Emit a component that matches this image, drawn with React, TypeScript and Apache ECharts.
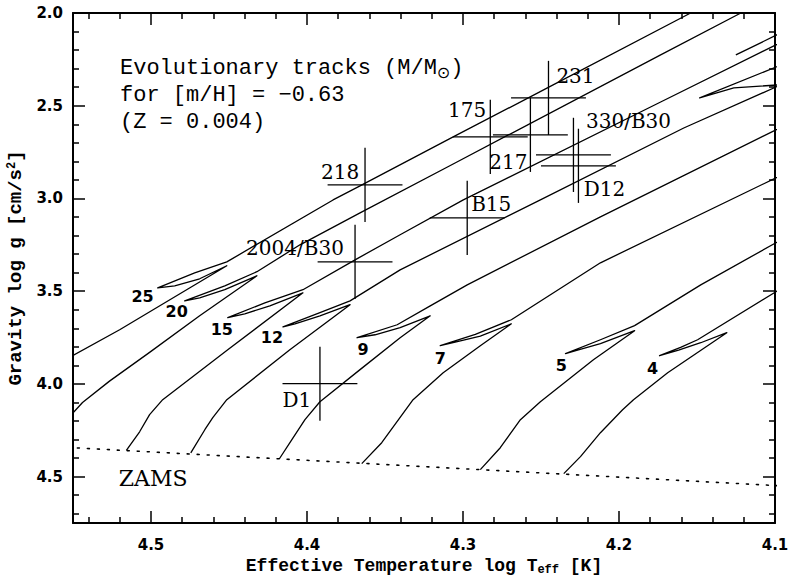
import React, { useEffect, useRef } from "react";
import * as echarts from "echarts";

// Evolutionary tracks: [log Teff, log g]
const track25 = [[4.5619, 3.902], [4.5201, 3.708], [4.4514, 3.363], [4.4688, 3.433], [4.4848, 3.471], [4.4957, 3.482], [4.472, 3.401], [4.4514, 3.342], [4.3833, 3.008], [4.366, 2.932], [4.3063, 2.668], [4.2459, 2.404], [4.1541, 2.0], [4.1412, 1.946]];
const track20 = [[4.5548, 4.2], [4.5439, 4.1], [4.5266, 3.985], [4.5009, 3.83], [4.4688, 3.633], [4.4321, 3.417], [4.4527, 3.492], [4.4688, 3.536], [4.4784, 3.552], [4.4527, 3.471], [4.4321, 3.395], [4.4045, 3.25], [4.366, 3.078], [4.3063, 2.814], [4.1733, 2.226], [4.1219, 2.0], [4.1091, 1.941]];
const track15 = [[4.5158, 4.358], [4.5073, 4.258], [4.5009, 4.166], [4.4925, 4.085], [4.4508, 3.816], [4.4026, 3.509], [4.4238, 3.579], [4.4399, 3.622], [4.4508, 3.643], [4.427, 3.563], [4.4026, 3.492], [4.3692, 3.331], [4.3403, 3.196], [4.2998, 3.008], [4.1733, 2.48], [4.0994, 2.172], [4.0898, 2.135]];
const track12 = [[4.4745, 4.372], [4.4655, 4.247], [4.4604, 4.182], [4.4514, 4.085], [4.411, 3.816], [4.3724, 3.573], [4.3917, 3.633], [4.4077, 3.676], [4.4154, 3.692], [4.3917, 3.616], [4.3724, 3.552], [4.3403, 3.385], [4.2504, 3.008], [4.1585, 2.62], [4.0994, 2.399], [4.0898, 2.361]];
const track9 = [[4.4178, 4.405], [4.4097, 4.301], [4.4013, 4.193], [4.3917, 4.096], [4.366, 3.923], [4.3403, 3.751], [4.321, 3.633], [4.3403, 3.697], [4.3564, 3.735], [4.3679, 3.751], [4.3422, 3.681], [4.321, 3.579], [4.2973, 3.466], [4.2119, 3.099], [4.0994, 2.63], [4.0898, 2.593]];
const track7 = [[4.3649, 4.43], [4.3521, 4.317], [4.332, 4.085], [4.3127, 3.94], [4.2889, 3.794], [4.269, 3.676], [4.2889, 3.742], [4.305, 3.775], [4.3146, 3.794], [4.2921, 3.733], [4.269, 3.654], [4.2119, 3.347], [4.0994, 2.889], [4.0898, 2.851]];
const track5 = [[4.2889, 4.462], [4.2761, 4.344], [4.2632, 4.193], [4.2504, 4.096], [4.2164, 3.87], [4.19, 3.713], [4.2119, 3.783], [4.226, 3.816], [4.2343, 3.837], [4.2119, 3.762], [4.19, 3.686], [4.1476, 3.466], [4.0994, 3.239], [4.0898, 3.196]];
const track4 = [[4.2354, 4.484], [4.2247, 4.392], [4.2119, 4.263], [4.1977, 4.139], [4.1907, 4.085], [4.1688, 3.94], [4.1309, 3.724], [4.1476, 3.778], [4.1618, 3.818], [4.174, 3.848], [4.1605, 3.803], [4.1496, 3.762], [4.0994, 3.503], [4.0898, 3.455]];
const loopSegment = [[4.0898, 2.259], [4.1483, 2.458], [4.1264, 2.404], [4.0898, 2.383]];
const shortSegment = [[4.1251, 2.226], [4.0898, 2.081]];
const zams = [[4.56, 4.3395], [4.09, 4.5525]];

const massLabels = ["25", "20", "15", "12", "9", "7", "5", "4"];
const massLabelTeff = [4.5054, 4.4835, 4.4546, 4.4225, 4.3641, 4.3146, 4.2369, 4.1785];
const massLabelLogg = [3.53, 3.611, 3.708, 3.751, 3.816, 3.864, 3.902, 3.918];

// Stars with error bars
const starNames = ["218", "2004/B30", "175", "231", "217", "330/B30", "D12", "B15", "D1"];
const starTeff = [4.3628, 4.3692, 4.2825, 4.2452, 4.2568, 4.2292, 4.226, 4.2973, 4.3917];
const starLogg = [2.927, 3.342, 2.668, 2.458, 2.657, 2.765, 2.824, 3.105, 3.999];
const starTeffErr = [0.024, 0.024, 0.024, 0.024, 0.024, 0.024, 0.024, 0.024, 0.024];
const starLoggErr = [0.2, 0.2, 0.2, 0.2, 0.2, 0.2, 0.2, 0.2, 0.2];
const starLabelTeff = [4.3788, 4.4077, 4.2973, 4.2279, 4.2709, 4.1939, 4.2093, 4.2819, 4.4065];
const starLabelLogg = [2.859, 3.266, 2.523, 2.339, 2.803, 2.582, 2.948, 3.029, 4.085];

const zamsLabel = ["ZAMS"];
const zamsLabelTeff = [4.4986];
const zamsLabelLogg = [4.508];

export default function App() {
  const ref = useRef<HTMLDivElement>(null);
  useEffect(() => {
    if (!ref.current) return;
    const chart = echarts.init(ref.current, null, { renderer: "svg" });
    const black = "#000";
    const fmtX = (v: number) => (Math.abs(v * 10 - Math.round(v * 10)) < 1e-6 ? v.toFixed(1) : "");
    const fmtY = (v: number) => (Math.abs(v * 2 - Math.round(v * 2)) < 1e-6 ? v.toFixed(1) : "");
    const tickCommon = {
      axisLine: { show: true, onZero: false, lineStyle: { color: black, width: 2 } },
      axisTick: { show: true, inside: true, length: 12, lineStyle: { color: black, width: 1.5 } },
      minorTick: { show: true, splitNumber: 5, length: 6, lineStyle: { color: black, width: 1.5 } },
      splitLine: { show: false },
      minorSplitLine: { show: false },
    };
    const xBase = { type: "value", inverse: true, min: 4.1, max: 4.55, interval: 0.1, ...tickCommon };
    const yBase = { type: "value", inverse: true, min: 2.0, max: 4.75, interval: 0.5, ...tickCommon };
    const tickFont = { fontFamily: "DejaVu Sans", fontWeight: "bold", fontSize: 15, color: black };
    const nameFont = { fontFamily: "Liberation Mono", fontWeight: "bold", color: black };

    const lineStyle = { color: black, width: 1.3, join: "round" };
    const tracks = [track25, track20, track15, track12, track9, track7, track5, track4, loopSegment, shortSegment];
    const trackSeries = tracks.map((d) => ({
      type: "line",
      data: d,
      symbol: "none",
      showSymbol: false,
      silent: true,
      clip: true,
      lineStyle,
      z: 3,
    }));

    const textSeries = (xs: number[], ys: number[], texts: string[], font: string) => ({
      type: "custom",
      silent: true,
      clip: false,
      z: 5,
      data: xs.map((x, i) => [x, ys[i]]),
      encode: { x: 0, y: 1 },
      renderItem: (params: any, api: any) => {
        const p = api.coord([api.value(0), api.value(1)]);
        return {
          type: "text",
          x: p[0],
          y: p[1],
          style: { text: texts[params.dataIndex], font, fill: black, align: "center", verticalAlign: "middle" },
        };
      },
    });

    const option = {
      animation: false,
      backgroundColor: "#fff",
      grid: { left: 73, right: 19, top: 13, bottom: 53, containLabel: false, outerBoundsMode: "none" },
      xAxis: [
        {
          ...xBase,
          position: "bottom",
          axisLabel: { ...tickFont, margin: 14, showMaxLabel: false, formatter: fmtX },
          name: "Effective Temperature log T{sub|eff} [K]",
          nameLocation: "middle",
          nameGap: 28,
          nameTextStyle: {
            ...nameFont,
            fontSize: 18,
            rich: { sub: { ...nameFont, fontSize: 12, padding: [8, 0, 0, 0] } },
          },
        },
        { ...xBase, position: "top", axisLabel: { show: false } },
      ],
      yAxis: [
        {
          ...yBase,
          position: "left",
          axisLabel: { ...tickFont, margin: 10, showMaxLabel: false, formatter: fmtY },
          name: "Gravity log g [cm/s{sup|2}]",
          nameLocation: "middle",
          nameGap: 46,
          nameTextStyle: {
            ...nameFont,
            fontSize: 19,
            rich: { sup: { ...nameFont, fontSize: 12, padding: [0, 0, 8, 0] } },
          },
        },
        { ...yBase, position: "right", axisLabel: { show: false } },
      ],
      graphic: [
        {
          type: "text",
          left: 120,
          top: 55,
          style: {
            text: "Evolutionary tracks (M/M{s|⊙})\nfor [m/H] = −0.63\n(Z = 0.004)",
            fill: black,
            fontFamily: "Liberation Mono",
            fontSize: 22,
            lineHeight: 27,
            rich: { s: { fill: black, fontFamily: "DejaVu Sans", fontSize: 16, padding: [8, 0, 0, 0] } },
          },
        },
      ],
      series: [
        ...trackSeries,
        {
          type: "line",
          data: zams,
          symbol: "none",
          silent: true,
          clip: true,
          lineStyle: { color: black, width: 1.6, type: [2, 8], cap: "round" },
          z: 3,
        },
        {
          type: "custom",
          silent: true,
          z: 4,
          data: starTeff.map((t, i) => [t, starLogg[i], starTeffErr[i], starLoggErr[i]]),
          encode: { x: 0, y: 1 },
          renderItem: (params: any, api: any) => {
            const x = api.value(0);
            const y = api.value(1);
            const ex = api.value(2);
            const ey = api.value(3);
            const a = api.coord([x + ex, y]);
            const b = api.coord([x - ex, y]);
            const c = api.coord([x, y - ey]);
            const d = api.coord([x, y + ey]);
            const st = { stroke: black, lineWidth: 1.3 };
            return {
              type: "group",
              children: [
                { type: "line", shape: { x1: a[0], y1: a[1], x2: b[0], y2: b[1] }, style: st },
                { type: "line", shape: { x1: c[0], y1: c[1], x2: d[0], y2: d[1] }, style: st },
              ],
            };
          },
        },
        textSeries(massLabelTeff, massLabelLogg, massLabels, 'bold 16px "DejaVu Sans"'),
        textSeries(starLabelTeff, starLabelLogg, starNames, '20px "DejaVu Serif"'),
        textSeries(zamsLabelTeff, zamsLabelLogg, zamsLabel, '22px "DejaVu Serif"'),
      ],
    };
    chart.setOption(option as any);
    return () => chart.dispose();
  }, []);
  return (
    <div
      ref={ref}
      style={{ position: "fixed", left: 0, top: 0, width: 794, height: 576, background: "#fff" }}
    />
  );
}
